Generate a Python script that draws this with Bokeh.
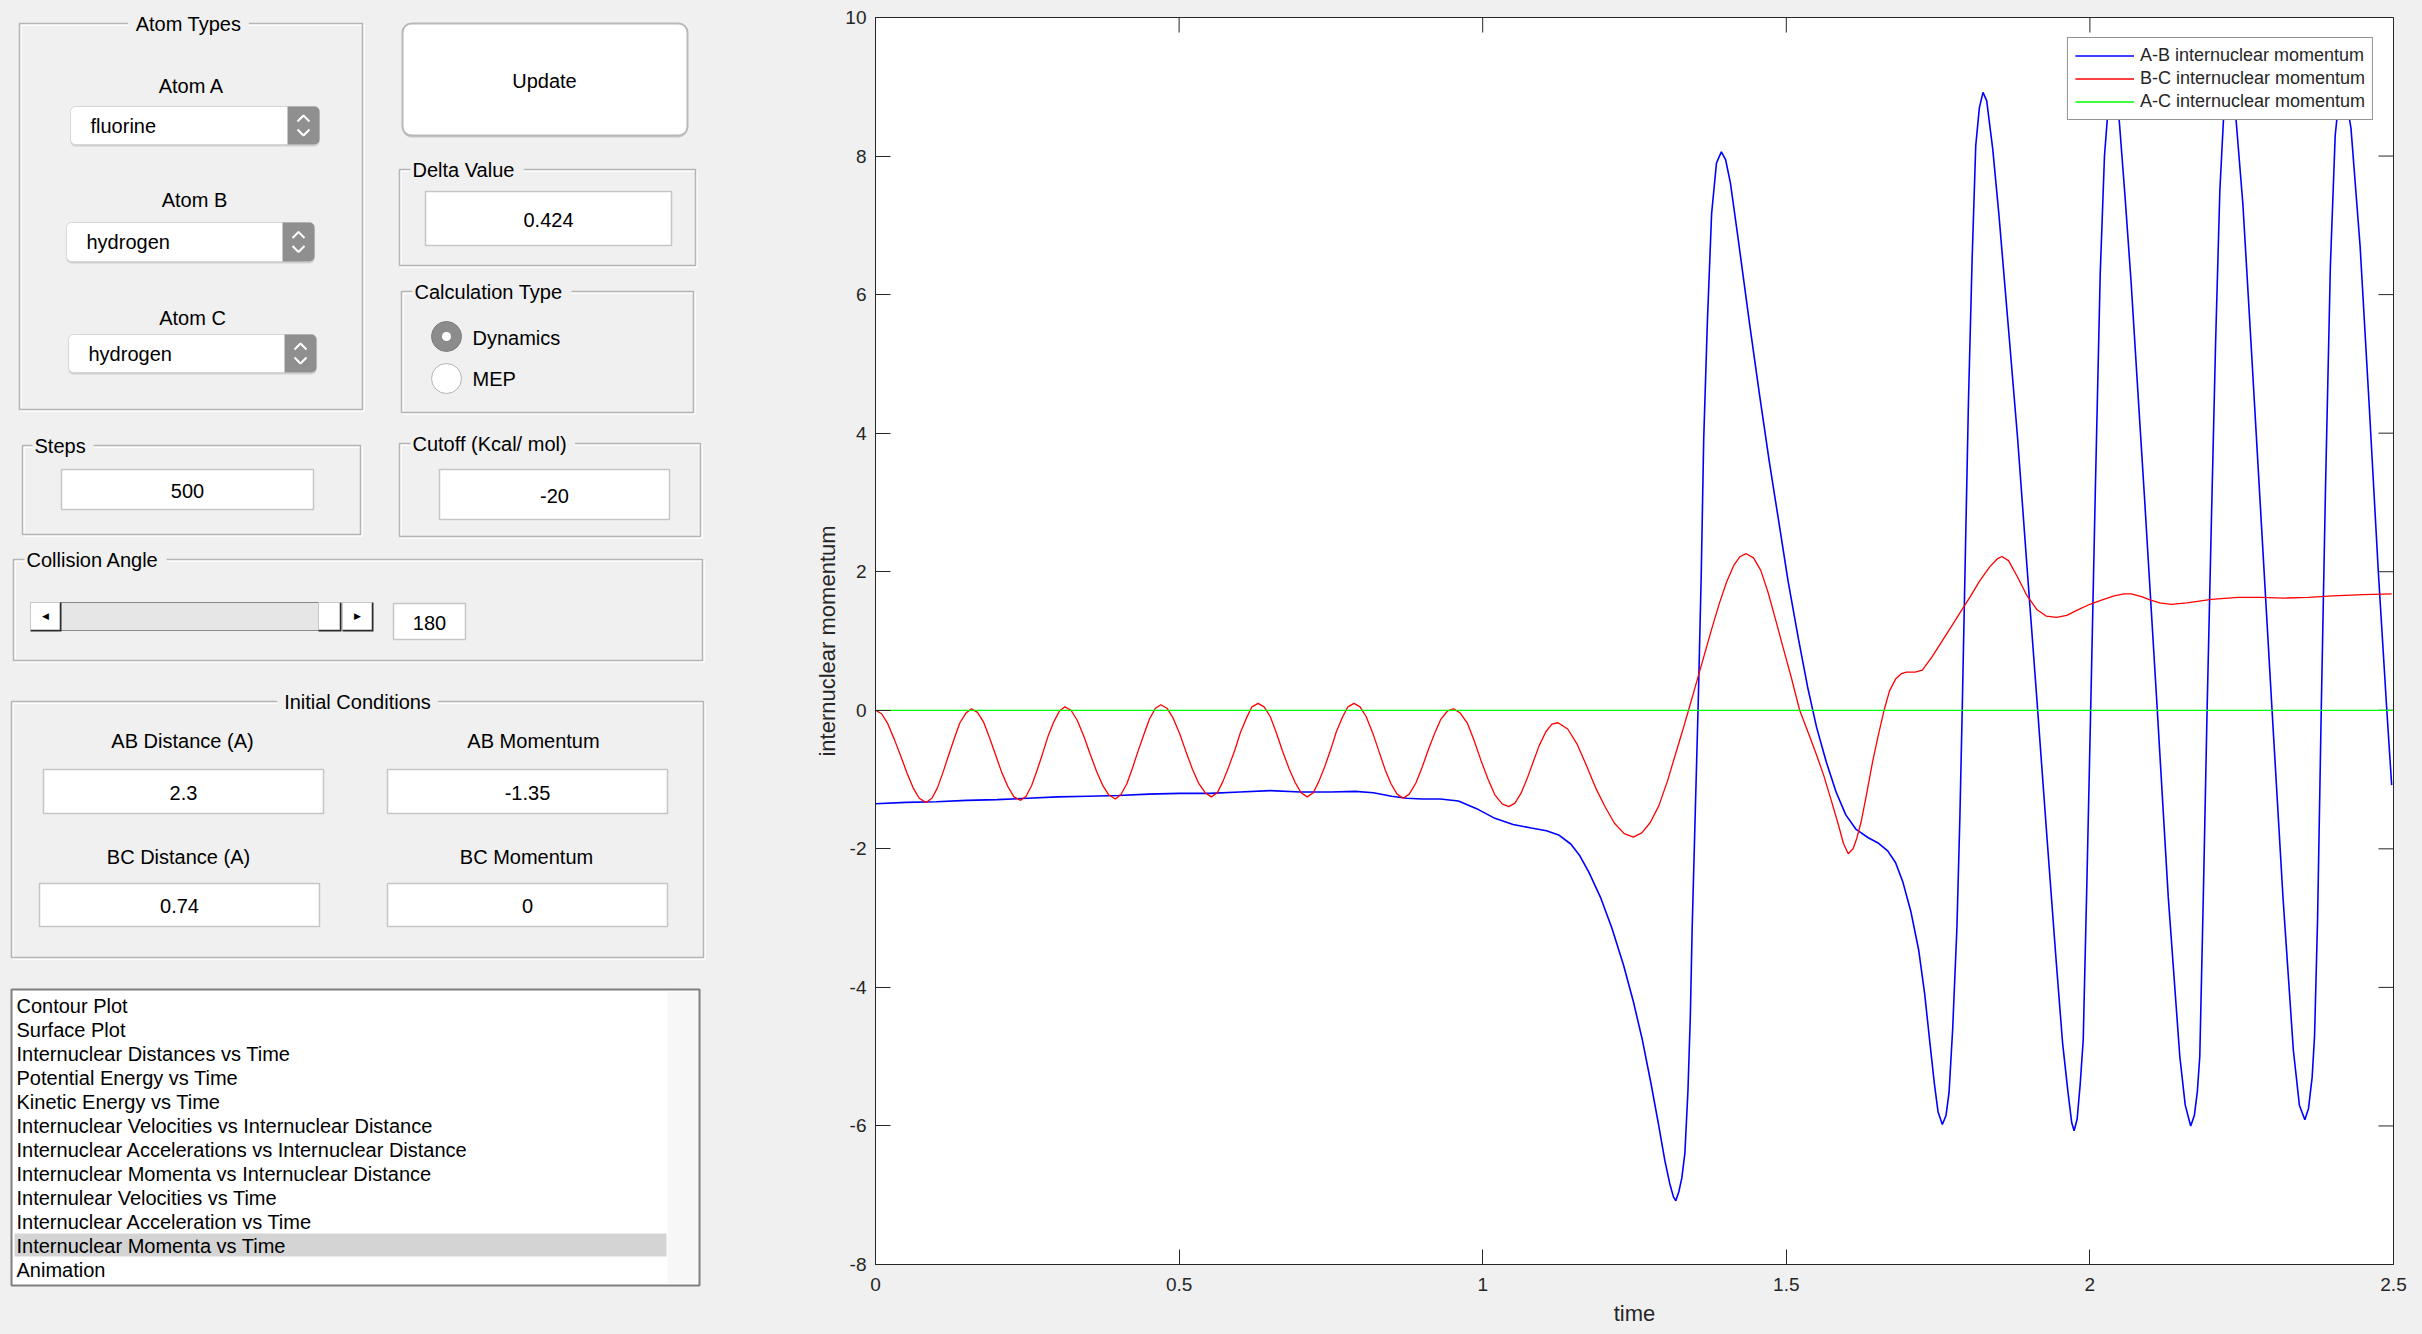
from bokeh.plotting import figure
from bokeh.models import Range1d, Legend, LegendItem, FixedTicker
from bokeh.embed import file_html
from bokeh.resources import INLINE
from bokeh.core.properties import value
import math

# ---------------- data ----------------
ab_t = [0.000, 0.050, 0.100, 0.150, 0.200, 0.250, 0.300, 0.350, 0.400, 0.450, 0.500, 0.550, 0.600, 0.650,
        0.700, 0.750, 0.790, 0.820, 0.850, 0.875, 0.900, 0.930, 0.960, 0.990, 1.020, 1.050, 1.080, 1.105,
        1.125, 1.145, 1.160, 1.175, 1.194, 1.213, 1.232, 1.248, 1.263, 1.277, 1.289, 1.300, 1.308, 1.314,
        1.318, 1.323, 1.328, 1.333, 1.338, 1.342, 1.345, 1.350, 1.355, 1.360, 1.364, 1.370, 1.377, 1.385,
        1.393, 1.400, 1.408, 1.420, 1.440, 1.456, 1.472, 1.488, 1.503, 1.520, 1.535, 1.550, 1.566, 1.582,
        1.598, 1.615, 1.635, 1.652, 1.667, 1.680, 1.692, 1.705, 1.718, 1.728, 1.736, 1.744, 1.750, 1.757,
        1.763, 1.768, 1.774, 1.781, 1.786, 1.790, 1.795, 1.800, 1.806, 1.812, 1.818, 1.824, 1.830, 1.840,
        1.850, 1.866, 1.881, 1.897, 1.913, 1.929, 1.945, 1.955, 1.964, 1.970, 1.974, 1.979, 1.984, 1.989,
        1.995, 2.002, 2.009, 2.017, 2.024, 2.031, 2.038, 2.048, 2.058, 2.068, 2.079, 2.090, 2.111, 2.129,
        2.148, 2.157, 2.166, 2.172, 2.177, 2.181, 2.187, 2.193, 2.200, 2.207, 2.214, 2.221, 2.230, 2.240,
        2.252, 2.266, 2.283, 2.300, 2.318, 2.335, 2.345, 2.354, 2.360, 2.366, 2.370, 2.375, 2.381, 2.388,
        2.396, 2.404, 2.411, 2.419, 2.430, 2.445, 2.460, 2.475, 2.489, 2.497]
ab_p = [-1.35, -1.33, -1.32, -1.30, -1.29, -1.27, -1.25, -1.24, -1.23, -1.21, -1.20, -1.20, -1.18, -1.16,
        -1.18, -1.18, -1.17, -1.19, -1.24, -1.27, -1.28, -1.28, -1.31, -1.42, -1.56, -1.65, -1.70, -1.74,
        -1.80, -1.93, -2.10, -2.34, -2.70, -3.15, -3.68, -4.20, -4.76, -5.38, -5.95, -6.50, -6.83, -7.02,
        -7.08, -6.95, -6.75, -6.39, -5.50, -4.40, -3.14, -1.50, 0.12, 2.00, 3.92, 5.60, 7.17, 7.90,
        8.06, 7.95, 7.61, 6.85, 5.55, 4.55, 3.59, 2.70, 1.86, 1.03, 0.34, -0.25, -0.75, -1.18,
        -1.51, -1.72, -1.84, -1.92, -2.03, -2.20, -2.48, -2.90, -3.46, -4.10, -4.76, -5.40, -5.80, -5.98,
        -5.85, -5.52, -4.60, -3.14, -1.50, 0.12, 2.30, 4.46, 6.50, 8.15, 8.70, 8.92, 8.80, 8.10,
        7.17, 5.50, 3.92, 2.00, 0.12, -1.80, -3.68, -4.80, -5.52, -5.95, -6.07, -5.90, -5.40, -4.76,
        -2.50, 0.30, 3.20, 6.30, 8.00, 8.80, 9.00, 8.55, 7.40, 6.16, 4.60, 3.06, 0.00, -2.69,
        -4.99, -5.70, -6.00, -5.85, -5.50, -4.99, -2.60, 0.00, 2.70, 5.30, 7.50, 8.70, 9.00, 8.60,
        7.30, 5.20, 2.60, 0.00, -2.70, -4.90, -5.70, -5.91, -5.75, -5.30, -4.70, -3.00, 0.00, 3.20,
        6.40, 8.30, 8.90, 9.00, 8.40, 6.70, 4.40, 2.00, 0.00, -1.08]

bc_t = [0.000, 0.010, 0.020, 0.031, 0.042, 0.052, 0.062, 0.072, 0.083, 0.093, 0.102, 0.111, 0.120, 0.130,
        0.139, 0.149, 0.158, 0.168, 0.178, 0.188, 0.198, 0.208, 0.218, 0.228, 0.239, 0.248, 0.257, 0.266,
        0.275, 0.284, 0.294, 0.303, 0.312, 0.322, 0.332, 0.343, 0.353, 0.364, 0.374, 0.384, 0.395, 0.404,
        0.414, 0.423, 0.432, 0.442, 0.451, 0.461, 0.470, 0.480, 0.490, 0.501, 0.511, 0.522, 0.532, 0.543,
        0.553, 0.563, 0.572, 0.582, 0.592, 0.601, 0.611, 0.620, 0.630, 0.640, 0.650, 0.660, 0.670, 0.681,
        0.691, 0.701, 0.711, 0.721, 0.730, 0.740, 0.750, 0.759, 0.769, 0.778, 0.788, 0.798, 0.808, 0.819,
        0.829, 0.839, 0.849, 0.859, 0.869, 0.879, 0.890, 0.900, 0.910, 0.921, 0.931, 0.942, 0.952, 0.963,
        0.975, 0.986, 0.997, 1.009, 1.020, 1.032, 1.043, 1.053, 1.063, 1.073, 1.083, 1.093, 1.104, 1.114,
        1.124, 1.140, 1.155, 1.171, 1.186, 1.202, 1.217, 1.233, 1.248, 1.262, 1.276, 1.290, 1.304, 1.318,
        1.329, 1.339, 1.352, 1.365, 1.378, 1.390, 1.402, 1.414, 1.424, 1.434, 1.446, 1.458, 1.470, 1.482,
        1.494, 1.508, 1.522, 1.536, 1.550, 1.562, 1.574, 1.586, 1.594, 1.602, 1.610, 1.616, 1.623, 1.632,
        1.642, 1.651, 1.661, 1.670, 1.680, 1.690, 1.698, 1.712, 1.724, 1.740, 1.756, 1.772, 1.787, 1.803,
        1.818, 1.835, 1.848, 1.855, 1.866, 1.881, 1.896, 1.913, 1.928, 1.945, 1.962, 1.980, 2.000, 2.019,
        2.040, 2.056, 2.068, 2.085, 2.100, 2.115, 2.134, 2.160, 2.200, 2.244, 2.280, 2.321, 2.360, 2.400,
        2.450, 2.497]
bc_p = [0.00, -0.05, -0.19, -0.42, -0.67, -0.91, -1.12, -1.27, -1.33, -1.27, -1.12, -0.90, -0.66, -0.40,
        -0.18, -0.04, 0.02, -0.03, -0.17, -0.40, -0.65, -0.90, -1.10, -1.25, -1.30, -1.24, -1.09, -0.87,
        -0.63, -0.38, -0.16, -0.01, 0.05, 0.00, -0.14, -0.37, -0.62, -0.88, -1.08, -1.22, -1.28, -1.22,
        -1.06, -0.84, -0.60, -0.35, -0.13, 0.03, 0.08, 0.03, -0.11, -0.34, -0.59, -0.85, -1.05, -1.19,
        -1.25, -1.19, -1.03, -0.81, -0.57, -0.32, -0.11, 0.05, 0.10, 0.05, -0.09, -0.32, -0.58, -0.84,
        -1.04, -1.19, -1.25, -1.19, -1.03, -0.81, -0.56, -0.31, -0.10, 0.05, 0.10, 0.05, -0.09, -0.33,
        -0.59, -0.85, -1.06, -1.21, -1.27, -1.21, -1.05, -0.83, -0.58, -0.33, -0.13, -0.01, 0.02, -0.04,
        -0.19, -0.44, -0.72, -1.00, -1.22, -1.35, -1.39, -1.34, -1.20, -0.99, -0.75, -0.51, -0.31, -0.20,
        -0.18, -0.27, -0.48, -0.80, -1.12, -1.40, -1.63, -1.78, -1.83, -1.77, -1.62, -1.38, -1.03, -0.62,
        -0.30, 0.00, 0.40, 0.80, 1.20, 1.55, 1.86, 2.10, 2.22, 2.26, 2.20, 2.02, 1.70, 1.32,
        0.93, 0.48, 0.00, -0.32, -0.65, -0.95, -1.30, -1.66, -1.92, -2.07, -2.00, -1.85, -1.62, -1.22,
        -0.75, -0.38, 0.00, 0.28, 0.45, 0.53, 0.55, 0.55, 0.58, 0.77, 0.99, 1.21, 1.42, 1.64,
        1.86, 2.07, 2.19, 2.22, 2.16, 1.92, 1.66, 1.45, 1.36, 1.34, 1.37, 1.45, 1.53, 1.59,
        1.65, 1.68, 1.68, 1.64, 1.59, 1.55, 1.53, 1.55, 1.60, 1.63, 1.63, 1.62, 1.63, 1.65,
        1.67, 1.68]

ac_t = [0.0, 2.5]
ac_p = [0.0, 0.0]

series_labels = ["A-B internuclear momentum", "B-C internuclear momentum", "A-C internuclear momentum"]
series_colors = ["#0000ff", "#ff0000", "#00ff00"]

x_ticks = [0, 0.5, 1, 1.5, 2, 2.5]
x_tick_labels = ["0", "0.5", "1", "1.5", "2", "2.5"]
y_ticks = [-8, -6, -4, -2, 0, 2, 4, 6, 8, 10]
y_tick_labels = ["-8", "-6", "-4", "-2", "0", "2", "4", "6", "8", "10"]
x_min, x_max = 0, 2.5
y_min, y_max = -8, 10

list_items = ["Contour Plot", "Surface Plot", "Internuclear Distances vs Time", "Potential Energy vs Time",
              "Kinetic Energy vs Time", "Internuclear Velocities vs Internuclear Distance",
              "Internuclear Accelerations vs Internuclear Distance",
              "Internuclear Momenta vs Internuclear Distance", "Internulear Velocities vs Time",
              "Internuclear Acceleration vs Time", "Internuclear Momenta vs Time", "Animation"]
selected_item = 10

BG = "#f0f0f0"
FONT = "Liberation Sans"
INK = "#262626"

# ---------------- control panel (left) ----------------
UI_W, H = 788, 1334
ui = figure(width=UI_W, height=H, x_range=Range1d(0, UI_W), y_range=Range1d(H, 0),
            output_backend="svg", toolbar_location=None, min_border=0,
            x_axis_location=None, y_axis_location=None,
            background_fill_color=BG, border_fill_color=BG, outline_line_color=None)
ui.grid.visible = False

W = {' ': 278, 'i': 222, 'j': 222, 'l': 222, 'f': 278, 't': 278, 'r': 333, '(': 333, ')': 333,
     '/': 278, '-': 333, '.': 278, 'm': 833, 'w': 722, 'c': 500, 'k': 500, 's': 500, 'v': 500,
     'y': 500, 'A': 667, 'B': 667, 'C': 722, 'D': 722, 'I': 278, 'K': 667, 'M': 833, 'S': 667,
     'T': 611, 'V': 667, 'P': 667, 'E': 667}


def text_w(s, size=20):
    return sum(W.get(ch, 556) for ch in s) / 1000 * size


def txt(x, y, s, align="center", size="20px", color="black", font=FONT):
    ui.text(x=[x], y=[y], text=[s], text_font=value(font), text_font_size=size,
            text_align=align, text_baseline="middle", text_color=color)


groups = [(19, 23, 362, 409, "Atom Types", 188, "center"),
          (399, 169, 695, 265, "Delta Value", 412, "left"),
          (401, 291, 693, 412, "Calculation Type", 414, "left"),
          (22, 445, 360, 534, "Steps", 34, "left"),
          (399, 443, 700, 536, "Cutoff (Kcal/ mol)", 412, "left"),
          (13, 559, 702, 660, "Collision Angle", 26, "left"),
          (11, 701, 703, 957, "Initial Conditions", 357, "center")]
for l, t, r, b, title, tx, al in groups:
    ui.quad(left=l + 1.5, right=r + 1.5, top=t + 1.5, bottom=b + 1.5, fill_alpha=0,
            line_color="white", line_width=1.5)
    ui.quad(left=l, right=r, top=t, bottom=b, fill_alpha=0, line_color="#b4b4b4", line_width=1.5)
    w = text_w(title)
    if al == "center":
        gl, gr = tx - w / 2 - 7, tx + w / 2 + 7
    else:
        gl, gr = tx - 2, tx + w + 8
    ui.quad(left=gl, right=gr, top=t - 5, bottom=t + 5, fill_color=BG, line_color=None)
    txt(tx, t, title, align=al)

# Update button
ui.quad(left=402, right=687, top=25, bottom=137, fill_color="#c8c8c8", line_color=None, border_radius=9)
ui.quad(left=402, right=687, top=23, bottom=135, fill_color="white", line_color="#b8b8b8", line_width=2,
        border_radius=9)
txt(544, 80, "Update")

# popup menus
popups = [(70, 106, 319, 144, "fluorine", "Atom A", 191, 85),
          (66, 222, 314, 261, "hydrogen", "Atom B", 194, 199),
          (68, 334, 316, 372, "hydrogen", "Atom C", 192, 317)]
for l, t, r, b, s, lab, lx, ly in popups:
    ui.quad(left=l, right=r, top=t + 2, bottom=b + 2, fill_color="#cfcfcf", line_color=None, border_radius=5)
    ui.quad(left=l, right=r, top=t, bottom=b, fill_color="white", line_color="#d6d6d6", line_width=1,
            border_radius=5)
    ui.quad(left=r - 32, right=r, top=t, bottom=b, fill_color="#8f8f8f", line_color=None,
            border_radius=[0, 5, 5, 0])
    cx, cy = r - 16, (t + b) / 2
    ui.multi_line(xs=[[cx - 6, cx, cx + 6], [cx - 6, cx, cx + 6]],
                  ys=[[cy - 4, cy - 10, cy - 4], [cy + 4, cy + 10, cy + 4]],
                  line_color="white", line_width=2)
    txt(l + 20, (t + b) / 2, s, align="left")
    txt(lx, ly, lab)

# edit boxes
edits = [(425, 191, 671, 245, "0.424"), (61, 469, 313, 509, "500"), (439, 469, 669, 519, "-20"),
         (393, 603, 465, 639, "180"), (43, 769, 323, 813, "2.3"), (387, 769, 667, 813, "-1.35"),
         (39, 883, 319, 926, "0.74"), (387, 883, 667, 926, "0")]
for l, t, r, b, s in edits:
    ui.quad(left=l, right=r, top=t, bottom=b, fill_color="white", line_color="#c6c6c6", line_width=1.5)
    txt((l + r) / 2, (t + b) / 2 + 1, s)

# labels in the initial-conditions panel
for lx, ly, s in [(182, 740, "AB Distance (A)"), (533, 740, "AB Momentum"),
                  (178, 856, "BC Distance (A)"), (526, 856, "BC Momentum")]:
    txt(lx, ly, s)

# radio buttons
ui.scatter(x=[446], y=[336], size=30, fill_color="#8c8c8c", line_color="#7d7d7d")
ui.scatter(x=[446], y=[336], size=9, fill_color="white", line_color=None)
ui.scatter(x=[446], y=[378], size=30, fill_color="white", line_color="#b5b5b5")
txt(472, 337, "Dynamics", align="left")
txt(472, 378, "MEP", align="left")

# slider
ui.quad(left=60, right=318, top=602, bottom=630, fill_color="#e6e6e6", line_color="#8a8a8a", line_width=1)
for l, r in [(30, 60), (342, 372), (318, 340)]:
    ui.quad(left=l, right=r + 1, top=602, bottom=631, fill_color="#2a2a2a", line_color=None)
    ui.quad(left=l, right=r - 1, top=602, bottom=629, fill_color="white", line_color="#c8c8c8", line_width=1)
txt(45, 615, "◀", size="9px", font="DejaVu Sans")
txt(357, 615, "▶", size="9px", font="DejaVu Sans")

# list box
ui.quad(left=11, right=699, top=989, bottom=1285, fill_color="white", line_color="#7f7f7f", line_width=2)
ui.quad(left=667, right=697, top=991, bottom=1283, fill_color="#f7f7f7", line_color=None)
sel_y = 1005 + 24 * selected_item
ui.quad(left=14, right=666, top=sel_y - 12, bottom=sel_y + 11, fill_color="#d4d4d4", line_color=None)
ui.text(x=[16] * len(list_items), y=[1005 + 24 * i for i in range(len(list_items))], text=list_items,
        text_font=value(FONT), text_font_size="20px", text_align="left", text_baseline="middle",
        text_color="black")

# ---------------- chart (right) ----------------
P_W = 2422 - UI_W
p = figure(width=P_W, height=H, x_range=Range1d(x_min, x_max), y_range=Range1d(y_min, y_max),
           output_backend="svg", toolbar_location=None,
           min_border_left=87, min_border_right=29, min_border_top=17, min_border_bottom=70,
           background_fill_color="white", border_fill_color=BG,
           outline_line_color=INK, outline_line_width=1)
p.grid.visible = False
p.xaxis.axis_label = "time"
p.yaxis.axis_label = "internuclear momentum"

p.xaxis.ticker = FixedTicker(ticks=x_ticks)
p.xaxis.major_label_overrides = dict(zip(x_ticks, x_tick_labels))
p.yaxis.ticker = FixedTicker(ticks=y_ticks)
p.yaxis.major_label_overrides = dict(zip(y_ticks, y_tick_labels))
for ax in p.xaxis + p.yaxis:
    ax.axis_line_color = INK
    ax.major_tick_line_color = INK
    ax.major_tick_in = 15
    ax.major_tick_out = 0
    ax.minor_tick_in = 0
    ax.minor_tick_out = 0
    ax.major_label_text_font = FONT
    ax.major_label_text_font_size = "19px"
    ax.major_label_text_color = INK
    ax.axis_label_text_font = FONT
    ax.axis_label_text_font_size = "22px"
    ax.axis_label_text_font_style = "normal"
    ax.axis_label_text_color = INK

p.xaxis.major_label_standoff = 13
p.xaxis.axis_label_standoff = 7
p.yaxis.major_label_standoff = 9
p.yaxis.axis_label_standoff = 2

# box ticks on the top and right edges (half of each dash is clipped by the frame)
p.scatter(x=x_ticks, y=[y_max] * len(x_ticks), marker="dash", size=30, angle=math.pi / 2,
          line_color=INK, line_width=1)
p.scatter(x=[x_max] * len(y_ticks), y=y_ticks, marker="dash", size=30,
          line_color=INK, line_width=1)

r_ab = p.line(ab_t, ab_p, line_color=series_colors[0], line_width=1.6)
r_bc = p.line(bc_t, bc_p, line_color=series_colors[1], line_width=1.3)
r_ac = p.line(ac_t, ac_p, line_color=series_colors[2], line_width=1.3)

legend = Legend(items=[LegendItem(label=series_labels[0], renderers=[r_ab]),
                       LegendItem(label=series_labels[1], renderers=[r_bc]),
                       LegendItem(label=series_labels[2], renderers=[r_ac])],
                location="top_right", margin=20, padding=7, spacing=2,
                glyph_width=59, glyph_height=19, label_height=19, label_standoff=6,
                label_text_font=FONT, label_text_font_size="18px", label_text_color=INK,
                border_line_color=INK, border_line_width=1,
                background_fill_color="white", background_fill_alpha=1.0)
p.add_layout(legend)

html = file_html([ui, p], INLINE, title="Internuclear Momenta vs Time")
css = ("<style>html, body {background:#f0f0f0 !important;} "
       "body {display:flex !important; flex-direction:row !important; align-items:flex-start !important; "
       "overflow:hidden;} body > * {flex:none;}</style>")
html = html.replace("</head>", css + "</head>", 1)
open("out.html", "w").write(html)
